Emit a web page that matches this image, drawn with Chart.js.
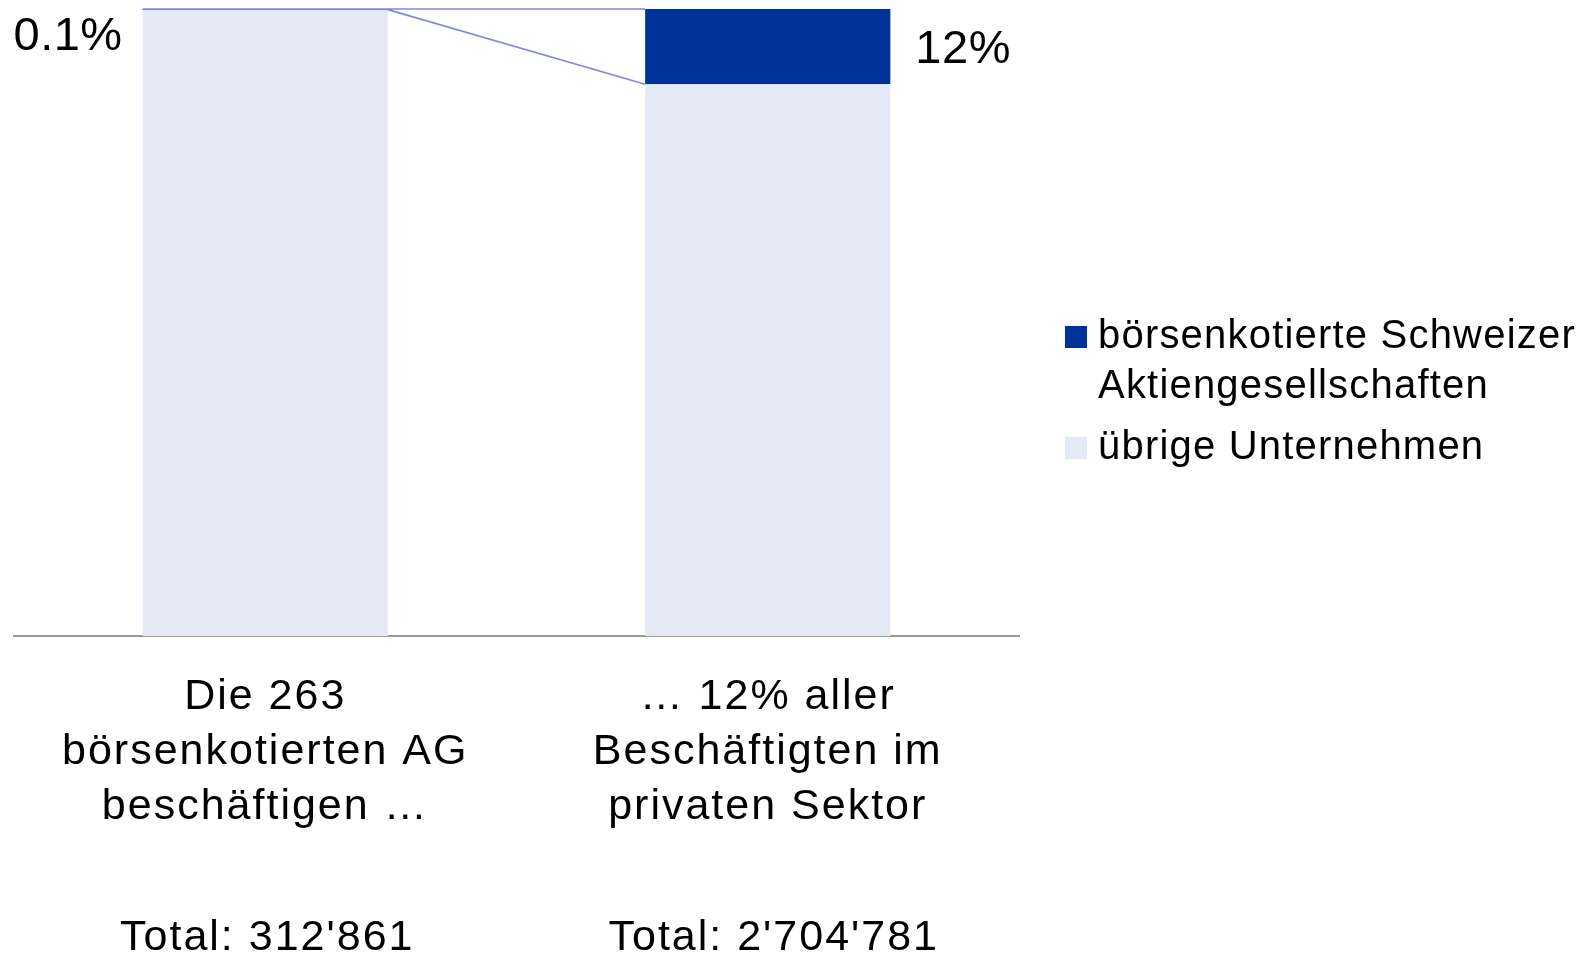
<!DOCTYPE html>
<html>
<head>
<meta charset="utf-8">
<script src="https://cdn.jsdelivr.net/npm/chart.js@4.4.1/dist/chart.umd.min.js"></script>
<style>
  html, body { margin: 0; padding: 0; background: #fff; }
</style>
</head>
<body>
<canvas id="chart" width="1587" height="954"></canvas>
<script>
// data
const categories = [
  ['Die 263', 'börsenkotierten AG', 'beschäftigen …'],
  ['… 12% aller', 'Beschäftigten im', 'privaten Sektor']
];
const totals = ["Total: 312'861", "Total: 2'704'781"];
const seriesNames = ['börsenkotierte Schweizer Aktiengesellschaften', 'übrige Unternehmen'];
const listedShare = [0.1, 12];
const otherShare = [99.9, 88];
const shareLabels = ['0.1%', '12%'];

const DARK = '#003399';
const LIGHT = '#E4E9F5';
const FONT = "'Liberation Sans', Arial, sans-serif";

// wrap legend text to a max width
function wrap(ctx, text, maxW) {
  const words = text.split(' ');
  const lines = [];
  let cur = '';
  for (const w of words) {
    const test = cur ? cur + ' ' + w : w;
    if (cur && ctx.measureText(test).width > maxW) {
      lines.push(cur);
      cur = w;
    } else {
      cur = test;
    }
  }
  if (cur) lines.push(cur);
  return lines;
}

const extras = {
  id: 'extras',
  beforeDraw(chart) {
    chart.ctx.letterSpacing = '2px';
  },
  afterDatasetsDraw(chart) {
    const ctx = chart.ctx;
    const bars = chart.getDatasetMeta(1).data;
    const b0 = bars[0], b1 = bars[1];
    ctx.save();
    // series lines between the two bars
    ctx.strokeStyle = '#8585E3';
    ctx.lineWidth = 1.6;
    ctx.beginPath();
    ctx.moveTo(b0.x - b0.width / 2, b0.y);
    ctx.lineTo(b1.x - b1.width / 2, b1.y);
    ctx.moveTo(b0.x + b0.width / 2, b0.base);
    ctx.lineTo(b1.x - b1.width / 2, b1.base);
    ctx.stroke();

    // value labels
    ctx.letterSpacing = '0.5px';
    ctx.fillStyle = '#000';
    ctx.font = '47px ' + FONT;
    ctx.textBaseline = 'middle';
    ctx.textAlign = 'right';
    ctx.fillText(shareLabels[0], b0.x - b0.width / 2 - 20, Math.max((b0.y + b0.base) / 2, b0.y + 28));
    ctx.textAlign = 'left';
    ctx.fillText(shareLabels[1], b1.x + b1.width / 2 + 25, (b1.y + b1.base) / 2 + 3);
    ctx.restore();
  },
  afterDraw(chart) {
    const ctx = chart.ctx;
    const xs = chart.scales.x;
    ctx.save();
    ctx.fillStyle = '#000';
    ctx.textBaseline = 'middle';

    // totals under the category labels
    ctx.letterSpacing = '2px';
    ctx.font = '43px ' + FONT;
    ctx.textAlign = 'center';
    totals.forEach((t, i) => ctx.fillText(t, xs.getPixelForValue(i) + 2 + i * 4, 938));

    // legend
    ctx.letterSpacing = '1.2px';
    ctx.font = '40px ' + FONT;
    ctx.textAlign = 'left';
    const colors = [DARK, LIGHT];
    let y = 337;
    seriesNames.forEach((name, i) => {
      ctx.fillStyle = colors[i];
      ctx.fillRect(1065, y - 11, 22, 22);
      ctx.fillStyle = '#000';
      const lines = wrap(ctx, name, 484);
      lines.forEach((ln, j) => ctx.fillText(ln, 1098, y + j * 50));
      y += lines.length * 50 + 11;
    });
    ctx.restore();
  }
};

new Chart(document.getElementById('chart'), {
  type: 'bar',
  data: {
    labels: categories,
    datasets: [
      {
        label: seriesNames[1],
        data: otherShare,
        backgroundColor: LIGHT,
        borderWidth: 0,
        categoryPercentage: 1,
        barPercentage: 0.488
      },
      {
        label: seriesNames[0],
        data: listedShare,
        backgroundColor: DARK,
        borderWidth: 0,
        categoryPercentage: 1,
        barPercentage: 0.488
      }
    ]
  },
  options: {
    responsive: false,
    animation: false,
    layout: { padding: { left: 14, top: 9, right: 568, bottom: 86 } },
    plugins: {
      legend: { display: false },
      tooltip: { enabled: false }
    },
    scales: {
      x: {
        stacked: true,
        grid: { display: false, drawTicks: false },
        border: { display: true, color: '#999999', width: 2 },
        ticks: {
          color: '#000',
          padding: 34,
          maxRotation: 0,
          autoSkip: false,
          font: { family: FONT, size: 43, lineHeight: 1.27 }
        }
      },
      y: { stacked: true, display: false, min: 0, max: 100 }
    }
  },
  plugins: [extras]
});
</script>
</body>
</html>
